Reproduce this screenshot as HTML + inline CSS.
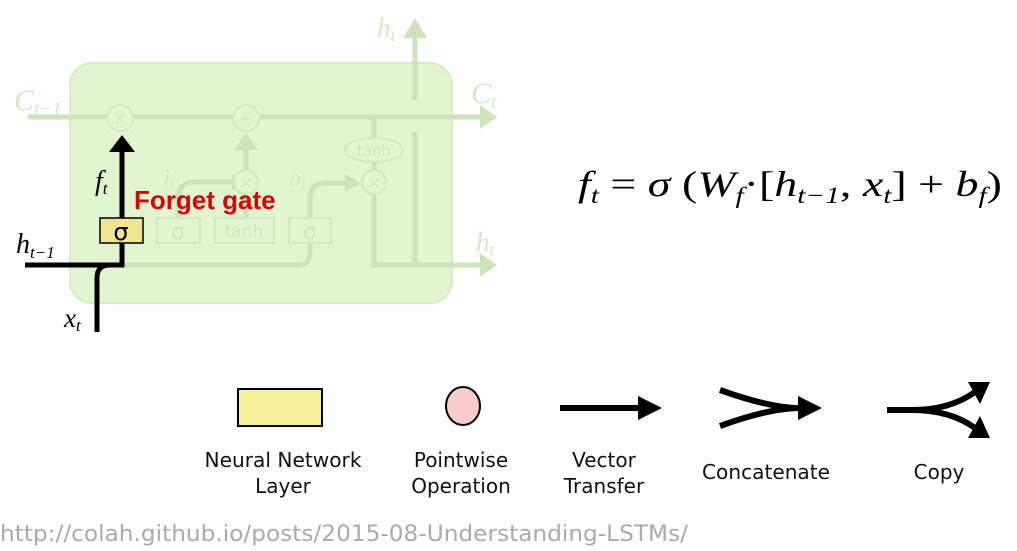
<!DOCTYPE html>
<html><head><meta charset="utf-8"><style>
body{margin:0;background:#fff;width:1017px;height:551px;overflow:hidden}
svg{display:block}
.m{font-family:"Liberation Serif",serif;font-style:italic}
.s{font-family:"DejaVu Sans",sans-serif}
</style></head><body>
<svg width="1017" height="551" viewBox="0 0 1017 551">
<rect x="70" y="63" width="382" height="240" rx="22" fill="#e1f5d1" stroke="#d6ecc6" stroke-width="2"/>
<g stroke="#cde3bb" stroke-width="5" fill="none">
<path d="M28,117H480"/>
<path d="M415,100V38"/>
<path d="M415,132V265"/>
<path d="M374,117V265Q374,265 390,265H480"/>
<path d="M120,265H300Q310,265 310,250V200Q310,183 325,183H358"/>
<path d="M178,243V200Q178,182 195,182H232"/>
<path d="M246,243V195"/>
<path d="M246,170V148"/>
<path d="M374,170V165"/>
</g>
<g fill="#cde3bb">
<path d="M480,105L497,117L480,129z"/>
<path d="M403,38L415,18L427,38z"/>
<path d="M480,253L497,265L480,277z"/>
<path d="M234,150L246,133L258,150z"/>
<path d="M232,174L245,182L232,190z"/>
<path d="M345,174L360,183L345,192z"/>
</g>
<g fill="#e1f5d1" stroke="#d2e8c2" stroke-width="2">
<circle cx="120" cy="118" r="13"/><circle cx="246" cy="118" r="13"/>
<circle cx="246" cy="182" r="12"/><circle cx="374" cy="182" r="12"/>
<ellipse cx="374" cy="150" rx="29" ry="12"/>
<rect x="157" y="218" width="43" height="25"/><rect x="215" y="218" width="59" height="25"/><rect x="289" y="218" width="42" height="25"/>
</g>
<g fill="#d0e6bf" class="s" text-anchor="middle">
<text x="120" y="124" font-size="16">×</text><text x="246" y="124" font-size="16">+</text><text x="246" y="188" font-size="16">×</text><text x="374" y="188" font-size="16">×</text>
<text x="374" y="156" font-size="15">tanh</text>
<text x="178" y="239" font-size="22">σ</text><text x="244" y="237" font-size="17">tanh</text><text x="310" y="239" font-size="22">σ</text>
</g>
<g fill="#d4e8c4" class="m">
<text x="14" y="110" font-size="30">C<tspan font-size="19" dy="5">t−1</tspan></text>
<text x="471" y="103" font-size="30">C<tspan font-size="19" dy="5">t</tspan></text>
<text x="377" y="37" font-size="27">h<tspan font-size="17" dy="4">t</tspan></text>
<text x="476" y="251" font-size="27">h<tspan font-size="17" dy="4">t</tspan></text>
<text x="163" y="186" font-size="24">i<tspan font-size="16" dy="3">t</tspan></text>
<text x="289" y="186" font-size="24">o<tspan font-size="16" dy="3">t</tspan></text>
</g>
<g stroke="#000" stroke-width="5" fill="none">
<path d="M25,265H122V148"/>
<path d="M97,332V278Q97,265 110,265"/>
</g>
<path d="M109,152L122,135L135,152z" fill="#000"/>
<rect x="100" y="218" width="43" height="25" fill="#f0e490" stroke="#000" stroke-width="1.5"/>
<text x="121" y="240" font-size="24" class="s" text-anchor="middle">σ</text>
<text x="95" y="190" class="m" font-size="28">f<tspan font-size="17" dy="4">t</tspan></text>
<text x="16" y="253" class="m" font-size="28">h<tspan font-size="17" dy="5">t−1</tspan></text>
<text x="64" y="327" class="m" font-size="27">x<tspan font-size="17" dy="4">t</tspan></text>
<text x="134" y="209" fill="#e00000" font-weight="bold" font-size="26" font-family="Liberation Sans,sans-serif">Forget gate</text>
<text x="578" y="196" class="m" font-size="36" textLength="424" lengthAdjust="spacingAndGlyphs">f<tspan font-size="23" dy="7">t</tspan><tspan dy="-7" font-style="normal"> = </tspan>σ<tspan font-style="normal"> (</tspan>W<tspan font-size="23" dy="7">f</tspan><tspan dy="-7" font-style="normal">·[</tspan>h<tspan font-size="23" dy="7">t−1</tspan><tspan dy="-7" font-style="normal">, </tspan>x<tspan font-size="23" dy="7">t</tspan><tspan dy="-7" font-style="normal">]  +  </tspan>b<tspan font-size="23" dy="7">f</tspan><tspan dy="-7" font-style="normal">)</tspan></text>
<rect x="238" y="389" width="84" height="37" fill="#f5f09c" stroke="#000" stroke-width="2"/>
<ellipse cx="463" cy="406" rx="17" ry="19" fill="#f9cccc" stroke="#000" stroke-width="2"/>
<path d="M560,408H640" stroke="#000" stroke-width="6" fill="none"/>
<path d="M638,396L662,408L638,420z"/>
<path d="M720,390Q770,408 800,408M720,426Q770,408 800,408" stroke="#000" stroke-width="6" fill="none"/>
<path d="M798,396L822,408L798,420z"/>
<path d="M887,410H912Q950,410 975,392M912,410Q950,410 975,428" stroke="#000" stroke-width="6" fill="none"/>
<path d="M968,382L990,382L980,404z"/>
<path d="M968,438L990,438L980,416z"/>
<g class="s" font-size="20" text-anchor="middle" fill="#111">
<text x="283" y="467" textLength="157" lengthAdjust="spacingAndGlyphs">Neural Network</text><text x="283" y="493">Layer</text>
<text x="461" y="467">Pointwise</text><text x="461" y="493">Operation</text>
<text x="604" y="467">Vector</text><text x="604" y="493">Transfer</text>
<text x="766" y="479" textLength="128" lengthAdjust="spacingAndGlyphs">Concatenate</text>
<text x="939" y="479">Copy</text>
</g>
<text x="0" y="541" font-family="DejaVu Sans,sans-serif" font-size="22" fill="#aaa" textLength="688" lengthAdjust="spacingAndGlyphs">http://colah.github.io/posts/2015-08-Understanding-LSTMs/</text>
</svg>
</body></html>
